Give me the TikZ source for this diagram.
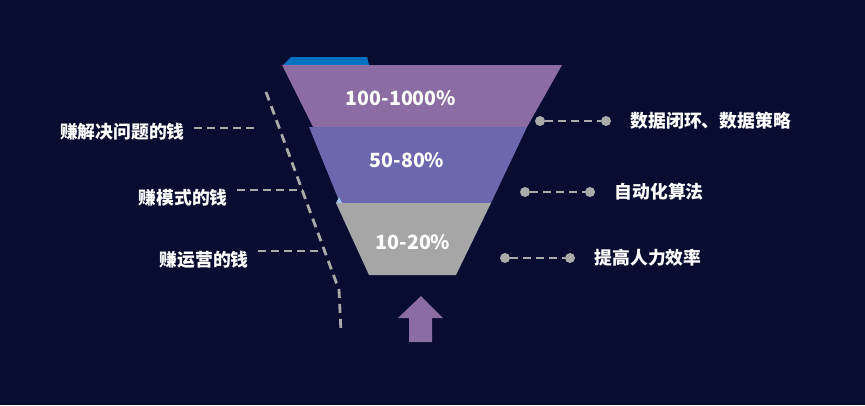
\documentclass[tikz,border=0pt]{standalone}
\usepackage{fontspec}
\setmainfont{Noto Sans CJK SC}
\usepackage{xcolor}
\usetikzlibrary{positioning}

\definecolor{bgnavy}{RGB}{8,12,48}
\definecolor{lyrA}{RGB}{139,108,163}
\definecolor{lyrB}{RGB}{108,103,175}
\definecolor{lyrC}{RGB}{166,166,166}
\definecolor{tabblue}{RGB}{0,112,192}
\definecolor{tabsky}{RGB}{157,195,230}
\definecolor{linegray}{RGB}{170,170,170}

\begin{document}
\begin{tikzpicture}[x=1pt, y=-1pt, node distance=16pt,
  every node/.style={text=white, font=\bfseries\fontsize{17.8}{21}\selectfont},
  pct/.style={font=\bfseries\fontsize{19.6}{24}\selectfont},
  lbl/.style={anchor=east, outer xsep=6pt},
  rlbl/.style={anchor=west},
  dashline/.style={draw=linegray, line width=2.8pt, dash pattern=on 8pt off 5pt},
  dot/.style={circle, fill=linegray, inner sep=0pt, minimum size=10pt}]
\fill[bgnavy] (0,0) rectangle (865,405);
% funnel
\fill[tabblue] (283,65) -- (291,57) -- (367,57) -- (369,65) -- cycle;
\fill[lyrA] (282,65) -- (562,65) -- (527,127) -- (313,127) -- cycle;
\fill[lyrB] (309,127) -- (527,127) -- (491,203) -- (340,203) -- cycle;
\fill[tabsky] (336,203) -- (339,197) -- (342,203) -- cycle;
\fill[lyrC] (336,203) -- (491,203) -- (456,275) -- (369,275) -- cycle;
\node[pct] (top) at (401,98) {100-1000\%};
\node[pct] (mid) at (407,160) {50-80\%};
\node[pct] (low) at (413,242) {10-20\%};
% up arrow
\fill[lyrA] (421,296) -- (443,318) -- (432,318) -- (432,342) -- (409,342) -- (409,318) -- (398,318) -- cycle;
% left side
\draw[dashline, dash pattern=on 9pt off 6pt] (266,92) -- (339,290) -- (341,332);
\coordinate (ea) at (258,128);
\coordinate (eb) at (303,190);
\coordinate (ec) at (325,251);
\node[lbl] (sa) at (194,132) {赚解决问题的钱};
\node[lbl] (sb) at (237,198) {赚模式的钱};
\node[lbl] (sc) at (258,260) {赚运营的钱};
\draw[dashline] (sa.east |- ea) -- (ea);
\draw[dashline] (sb.east |- eb) -- (eb);
\draw[dashline] (sc.east |- ec) -- (ec);
% right side
\node[dot] (pa) at (540,121) {};
\node[dot] (qa) at (606,121) {};
\node[dot] (pb) at (525,192) {};
\node[dot] (qb) at (590,192) {};
\node[dot] (pc) at (505,258) {};
\node[dot] (qc) at (570,258) {};
\draw[dashline] (pa) -- (qa);
\draw[dashline] (pb) -- (qb);
\draw[dashline] (pc) -- (qc);
\node[rlbl, right=of qa] (ta) {数据闭环、数据策略};
\node[rlbl, right=of qb] (tb) {自动化算法};
\node[rlbl, right=of qc] (tc) {提高人力效率};
\end{tikzpicture}
\end{document}
